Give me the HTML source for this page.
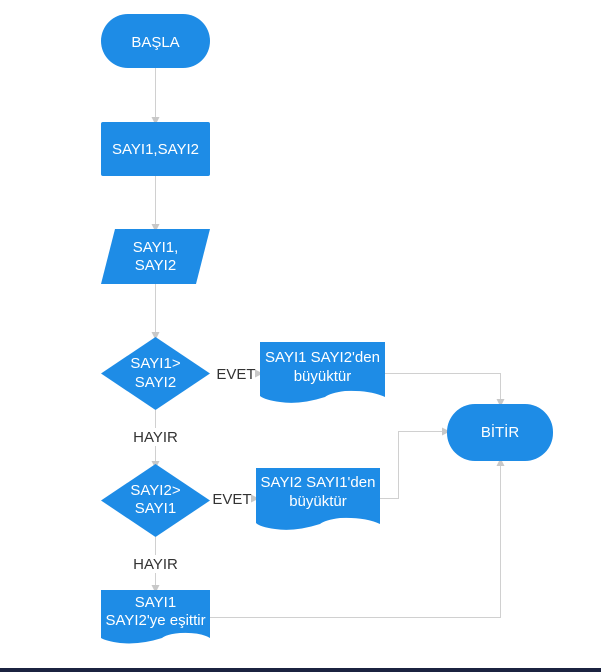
<!DOCTYPE html>
<html><head><meta charset="utf-8"><style>
html,body{margin:0;padding:0;background:#fff;width:601px;height:672px;overflow:hidden}
svg text{font-family:"Liberation Sans",sans-serif;font-size:15px}
</style></head><body>
<svg width="601" height="672" viewBox="0 0 601 672" xmlns="http://www.w3.org/2000/svg">
<defs><marker id="a" markerWidth="8" markerHeight="8" refX="4" refY="4" orient="auto" markerUnits="userSpaceOnUse"><path d="M0,0 L8,4 L0,8 z" fill="#c8c8c8"/></marker></defs>
<g stroke="#d0d0d0" stroke-width="1" fill="none">
<path d="M155.5,67 V121" marker-end="url(#a)"/>
<path d="M155.5,175 V228" marker-end="url(#a)"/>
<path d="M155.5,284 V336" marker-end="url(#a)"/>
<path d="M155.5,410 V428 M155.5,446 V465" marker-end="url(#a)"/>
<path d="M155.5,537 V555 M155.5,573 V589" marker-end="url(#a)"/>
<path d="M256,373.5 H259" marker-end="url(#a)"/>
<path d="M252,498.5 H255" marker-end="url(#a)"/>
<path d="M385,373.5 H500.5 V403" marker-end="url(#a)"/>
<path d="M380,498.5 H398.5 V431.5 H446" marker-end="url(#a)"/>
<path d="M210,617.5 H500.5 V462" marker-end="url(#a)"/>
</g>
<g fill="#1e8ce6">
<rect x="101" y="14" width="109" height="54" rx="27"/>
<rect x="101" y="122" width="109" height="54" rx="2"/>
<path d="M115,229 H210 L196,284 H101 Z"/>
<path d="M155.5,337 L210,373.5 L155.5,410 L101,373.5 Z"/>
<path d="M155.5,464 L210,500.5 L155.5,537 L101,500.5 Z"/>
<path d="M260,342 H385 V397 Q370,390 345,391 Q330,393 325,397 Q300,405 280,402 Q265,400 260,396 Z"/>
<path d="M256,468 H380 V524 Q365,517 340,518 Q325,520 320,524 Q295,532 275,529 Q260,527 256,523 Z"/>
<path d="M101,590 H210 V638 Q200,632 180,633 Q167,634 162,638 Q140,645 120,643 Q106,641 101,638 Z"/>
<rect x="447" y="404" width="106" height="57" rx="28"/>
</g>
<g fill="#fff" text-anchor="middle">
<text x="155.5" y="47">BAŞLA</text>
<text x="155.5" y="154">SAYI1,SAYI2</text>
<text x="155.5" y="252">SAYI1,</text>
<text x="155.5" y="270">SAYI2</text>
<text x="155.5" y="368">SAYI1&gt;</text>
<text x="155.5" y="387">SAYI2</text>
<text x="155.5" y="495">SAYI2&gt;</text>
<text x="155.5" y="513">SAYI1</text>
<text x="322.5" y="362">SAYI1 SAYI2'den</text>
<text x="322.5" y="381">büyüktür</text>
<text x="318" y="487">SAYI2 SAYI1'den</text>
<text x="318" y="506">büyüktür</text>
<text x="155.5" y="607">SAYI1</text>
<text x="155.5" y="625">SAYI2'ye eşittir</text>
<text x="500" y="437">BİTİR</text>
</g>
<g fill="#333" text-anchor="middle">
<text x="236" y="379">EVET</text>
<text x="232" y="504">EVET</text>
<text x="155.5" y="442">HAYIR</text>
<text x="155.5" y="569">HAYIR</text>
</g>
<rect x="0" y="668" width="601" height="4" fill="#1b2340"/>
</svg>
</body></html>
